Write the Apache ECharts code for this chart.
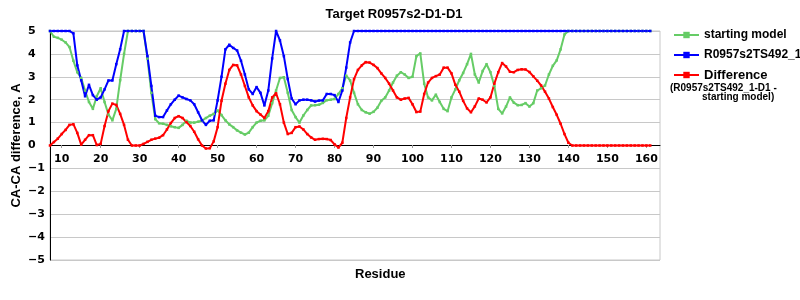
<!DOCTYPE html>
<html><head><meta charset="utf-8">
<script src="https://cdn.jsdelivr.net/npm/echarts@6/dist/echarts.min.js"></script>
<style>html,body{margin:0;padding:0;background:#fff}#c{width:800px;height:300px}</style>
</head><body><div id="c"></div>
<script>
// Residues 7..161
const residueStart = 7;
const startingModel = [
  5, 4.75, 4.7, 4.62, 4.5, 4.3, 3.7, 3.2, 2.95, 2.4,
  1.9, 1.6, 2.15, 2.5, 1.9, 1.35, 1.1, 1.6, 2.85, 4.0,
  5, 5, 5, 5, 5, 3.8, 2.3, 1.15, 0.97, 0.95,
  0.9, 0.84, 0.8, 0.77, 0.9, 1.08, 1.0, 1.0, 1.04, 1.09,
  1.2, 1.3, 1.38, 1.53, 1.33, 1.1, 0.92, 0.8, 0.66, 0.56,
  0.48, 0.56, 0.8, 1.0, 1.08, 1.1, 1.3, 1.85, 2.4, 2.95,
  2.98, 2.3, 1.55, 1.24, 1.0, 1.31, 1.55, 1.75, 1.76, 1.78,
  1.86, 1.98, 2.0, 2.03, 2.25, 2.5, 3.05, 2.84, 2.3, 1.8,
  1.55, 1.45, 1.39, 1.47, 1.65, 1.95, 2.1, 2.4, 2.75, 3.05,
  3.2, 3.1, 2.95, 3.0, 3.9, 4.02, 2.7, 2.1, 1.97, 2.22,
  1.9, 1.6, 1.5, 2.1, 2.45, 2.85, 3.17, 3.55, 4.0, 3.1,
  2.75, 3.25, 3.55, 3.2, 2.6, 1.6, 1.4, 1.7, 2.1, 1.87,
  1.76, 1.77, 1.85, 1.7, 1.85, 2.4, 2.5, 2.62, 3.1, 3.48,
  3.72, 4.2, 4.85, 5, 5, 5, 5, 5, 5, 5,
  5, 5, 5, 5, 5, 5, 5, 5, 5, 5,
  5, 5, 5, 5, 5
];
const modelTS492 = [
  5, 5, 5, 5, 5, 5, 4.9, 3.5, 2.85, 2.15,
  2.65, 2.2, 2.0, 2.1, 2.45, 2.84, 2.84, 3.55, 4.2, 5,
  5, 5, 5, 5, 5, 3.9, 2.6, 1.3, 1.24, 1.24,
  1.53, 1.8, 2.0, 2.18, 2.1, 2.03, 1.97, 1.8, 1.45, 1.1,
  0.9, 1.08, 1.1, 1.97, 3.0, 4.2, 4.4, 4.26, 4.15, 3.7,
  3.1, 2.45, 2.25, 2.55, 2.3, 1.75, 2.4, 3.8, 5, 4.59,
  3.9, 2.9, 2.05, 1.8, 1.97, 2.0, 2.0, 1.97, 1.92, 1.96,
  1.97, 2.25, 2.25, 2.2, 1.9, 2.4, 3.4, 4.5, 5, 5,
  5, 5, 5, 5, 5, 5, 5, 5, 5, 5,
  5, 5, 5, 5, 5, 5, 5, 5, 5, 5,
  5, 5, 5, 5, 5, 5, 5, 5, 5, 5,
  5, 5, 5, 5, 5, 5, 5, 5, 5, 5,
  5, 5, 5, 5, 5, 5, 5, 5, 5, 5,
  5, 5, 5, 5, 5, 5, 5, 5, 5, 5,
  5, 5, 5, 5, 5, 5, 5, 5, 5, 5,
  5, 5, 5, 5, 5
];
const difference = [
  0, 0.15, 0.3, 0.5, 0.68, 0.9, 0.93, 0.55, 0.04, 0.25,
  0.45, 0.45, 0.02, 0.07, 0.85, 1.5, 1.83, 1.77, 1.38, 0.9,
  0.25, 0, 0, 0, 0.07, 0.16, 0.25, 0.3, 0.34, 0.45,
  0.7, 0.98, 1.2, 1.28, 1.2, 1.02, 0.85, 0.6, 0.27, 0,
  -0.13, -0.12, 0.18, 0.8, 1.95, 2.7, 3.3, 3.52, 3.5, 3.1,
  2.6, 2.1, 1.75, 1.5, 1.35, 1.2, 1.5, 2.1, 2.28, 1.8,
  1.0, 0.5, 0.55, 0.8, 0.83, 0.7, 0.5, 0.35, 0.25, 0.28,
  0.29, 0.28, 0.24, 0.05, -0.09, 0.12, 1.2, 2.1, 2.9, 3.3,
  3.5, 3.64, 3.62, 3.52, 3.38, 3.15, 2.95, 2.7, 2.4, 2.1,
  2.0, 2.05, 2.08, 1.8, 1.46, 1.48, 2.25, 2.75, 2.95, 3.03,
  3.1, 3.4, 3.4, 3.15, 2.65, 2.35, 1.95, 1.62, 1.45, 1.71,
  2.05, 2.0, 1.88, 2.1, 2.7, 3.2, 3.6, 3.45, 3.22, 3.2,
  3.3, 3.33, 3.32, 3.21, 3.02, 2.83, 2.62, 2.35, 2.05, 1.68,
  1.34, 0.95, 0.5, 0.12, 0, 0, 0, 0, 0, 0,
  0, 0, 0, 0, 0, 0, 0, 0, 0, 0,
  0, 0, 0, 0, 0
];
const xTickLabels = [10, 20, 30, 40, 50, 60, 70, 80, 90, 100, 110, 120, 130, 140, 150, 160];
const seriesNames = ['starting model', 'R0957s2TS492_1-D1', 'Difference'];
const titleText = 'Target R0957s2-D1-D1';
const xName = 'Residue';
const yName = 'CA-CA difference, A';
const diffNote1 = '(R0957s2TS492_1-D1 -';
const diffNote2 = 'starting model)';

function pairs(arr) { return arr.map((v, i) => [residueStart + i, v]); }

const chart = echarts.init(document.getElementById('c'), null, {renderer: 'canvas'});
const tickFont = {fontFamily: 'DejaVu Sans', fontWeight: 'bold', fontSize: 11, color: '#000'};
const mkSeries = (name, data, color) => ({
  name, type: 'line', data: pairs(data),
  lineStyle: {color, width: 2}, itemStyle: {color},
  symbol: 'rect', symbolSize: 2.5, showSymbol: true, animation: false
});
chart.setOption({
  animation: false,
  backgroundColor: '#fff',
  title: [
    {text: titleText, left: 389, top: 3, textAlign: 'center',
     textStyle: {fontFamily: 'Liberation Sans', fontWeight: 'bold', fontSize: 13, color: '#000'}},
    {text: xName, left: 350, top: 263,
     textStyle: {fontFamily: 'Liberation Sans', fontWeight: 'bold', fontSize: 13, color: '#000'}}
  ],
  legend: {
    orient: 'vertical', left: 668, top: 23, itemWidth: 25, itemHeight: 8, itemGap: 6,
    data: seriesNames,
    textStyle: {fontFamily: 'Liberation Sans', fontWeight: 'bold', fontSize: 12, color: '#000', lineHeight: 14,
      rich: {big: {fontFamily: 'Liberation Sans', fontWeight: 'bold', fontSize: 13, lineHeight: 14, color: '#000'}}},
    formatter: n => n === 'Difference' ? '{big|' + n + '}' : n
  },
  graphic: [
    {type: 'text', left: 670, top: 83, style: {text: diffNote1, font: 'bold 10px "Liberation Sans"', fill: '#000'}},
    {type: 'text', left: 702, top: 92, style: {text: diffNote2, font: 'bold 10px "Liberation Sans"', fill: '#000'}}
  ],
  grid: {left: 50, right: 140, top: 31, bottom: 40, show: true, borderColor: '#c8c8c8', borderWidth: 1,
         containLabel: false, outerBoundsMode: 'none'},
  xAxis: {
    type: 'value', min: 7, max: 163.5, position: 'bottom', offset: -115,
    axisLine: {onZero: false, lineStyle: {color: '#000', width: 1}},
    axisTick: {show: true, customValues: xTickLabels, length: 3, lineStyle: {color: '#999'}},
    axisLabel: Object.assign({customValues: xTickLabels, margin: 9}, tickFont),
    splitLine: {show: false}
  },
  yAxis: {
    type: 'value', min: -5, max: 5, interval: 1,
    name: yName, nameLocation: 'middle', nameGap: 27, nameMoveOverlap: false,
    nameTextStyle: {fontFamily: 'Liberation Sans', fontWeight: 'bold', fontSize: 13, color: '#000'},
    axisLine: {show: true, lineStyle: {color: '#000', width: 1}},
    axisTick: {show: false},
    axisLabel: Object.assign({align: 'left', margin: 22, formatter: v => String(v).replace('-', '\u2212')}, tickFont),
    splitLine: {show: true, lineStyle: {color: '#c8c8c8', width: 1}}
  },
  series: [
    mkSeries(seriesNames[0], startingModel, '#66cc66'),
    mkSeries(seriesNames[1], modelTS492, '#0000ff'),
    mkSeries(seriesNames[2], difference, '#ff0000')
  ]
});
</script>
</body></html>
